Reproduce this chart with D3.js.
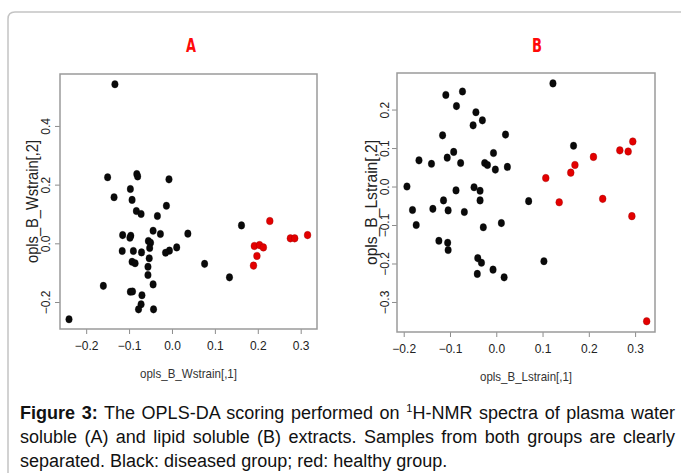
<!DOCTYPE html>
<html>
<head>
<meta charset="utf-8">
<script src="https://cdn.jsdelivr.net/npm/d3@7"></script>
<style>
  body { margin: 0; background: #fff; }
  svg { display: block; font-family: "Liberation Sans", Arial, sans-serif; }
  .tick line { stroke: #8c8c8c; }
  .tick text { fill: #222; font-size: 12px; }
</style>
</head>
<body>
<div id="fig"></div>
<script>
// panel A: water soluble extracts
var waterDiseased = [
  [-0.133, 0.542], [-0.150, 0.225], [-0.082, 0.236], [-0.080, 0.228], [-0.007, 0.218],
  [-0.097, 0.185], [-0.135, 0.157], [-0.093, 0.148], [-0.013, 0.128], [-0.083, 0.110],
  [-0.072, 0.100], [-0.034, 0.093], [0.162, 0.061], [-0.044, 0.043], [-0.115, 0.028],
  [-0.096, 0.026], [-0.098, 0.019], [-0.027, 0.032], [0.037, 0.033], [-0.055, 0.008],
  [-0.050, 0.002], [0.011, -0.014], [-0.052, -0.016], [-0.006, -0.025], [-0.015, -0.032],
  [-0.116, -0.026], [-0.090, -0.026], [-0.071, -0.031], [-0.053, -0.051], [-0.093, -0.063],
  [-0.086, -0.068], [0.076, -0.070], [-0.056, -0.080], [-0.056, -0.108], [0.134, -0.116],
  [-0.044, -0.140], [-0.160, -0.145], [-0.097, -0.165], [-0.092, -0.164], [-0.070, -0.177],
  [-0.072, -0.208], [-0.078, -0.225], [-0.043, -0.225], [-0.240, -0.259]
];
var waterHealthy = [
  [0.228, 0.076], [0.276, 0.017], [0.286, 0.017], [0.316, 0.028], [0.192, -0.009],
  [0.204, -0.006], [0.213, -0.014], [0.198, -0.043], [0.190, -0.076]
];

// panel B: lipid soluble extracts
var lipidDiseased = [
  [0.1225, 0.268], [-0.073, 0.247], [-0.109, 0.238], [-0.086, 0.209], [-0.044, 0.193],
  [-0.030, 0.172], [-0.050, 0.159], [-0.116, 0.133], [0.020, 0.135], [0.167, 0.106],
  [-0.092, 0.090], [-0.006, 0.087], [-0.106, 0.075], [-0.167, 0.068], [-0.140, 0.059],
  [-0.077, 0.061], [-0.025, 0.061], [-0.019, 0.056], [0.024, 0.051], [-0.002, 0.044],
  [-0.193, 0.000], [-0.048, -0.002], [-0.035, -0.011], [-0.087, -0.010], [-0.114, -0.036],
  [-0.035, -0.036], [0.070, -0.038], [-0.181, -0.061], [-0.137, -0.058], [-0.104, -0.062],
  [-0.069, -0.066], [-0.173, -0.100], [0.011, -0.095], [-0.028, -0.106], [-0.124, -0.141],
  [-0.105, -0.146], [-0.104, -0.165], [-0.040, -0.186], [-0.032, -0.198], [0.103, -0.194],
  [-0.007, -0.216], [-0.041, -0.227], [0.017, -0.236]
];
var lipidHealthy = [
  [0.107, 0.022], [0.136, -0.041], [0.161, 0.036], [0.170, 0.056], [0.210, 0.077],
  [0.230, -0.032], [0.267, 0.094], [0.285, 0.091], [0.295, 0.117], [0.293, -0.077],
  [0.325, -0.350]
];

var xTicksA = [-0.2, -0.1, 0.0, 0.1, 0.2, 0.3];
var yTicksA = [-0.2, 0.0, 0.2, 0.4];
var xTicksB = [-0.2, -0.1, 0.0, 0.1, 0.2, 0.3];
var yTicksB = [-0.3, -0.2, -0.1, 0.0, 0.1, 0.2];

var captionLines = [
  ["Figure 3:", " The OPLS-DA scoring performed on ", "1", "H-NMR spectra of plasma water"],
  ["", "soluble (A) and lipid soluble (B) extracts. Samples from both groups are clearly"],
  ["", "separated. Black: diseased group; red: healthy group."]
];

var svgWidth = 681;
var svgHeight = 473;

var svg = d3.select("#fig").append("svg")
  .attr("width", svgWidth)
  .attr("height", svgHeight);

// rounded frame around the figure
svg.append("path")
  .attr("d", "M8,480 L8,19 Q8,12 15,12 L690,12")
  .attr("fill", "none")
  .attr("stroke", "#c4c4c4")
  .attr("stroke-width", 1.5);

var panels = [
  {
    title: "A", titleX: 191,
    diseased: waterDiseased, healthy: waterHealthy,
    xDomain: [-0.261, 0.338], yDomain: [-0.292, 0.577],
    left: 60, right: 317, top: 74, bottom: 329,
    xTicks: xTicksA, yTicks: yTicksA,
    xLabel: "opls_B_Wstrain[,1]", yLabel: "opls_B_Wstrain[,2]",
    xLabelLen: 97, yLabelLen: 123, yLabelX: 38, yTickX: 50
  },
  {
    title: "B", titleX: 537,
    diseased: lipidDiseased, healthy: lipidHealthy,
    xDomain: [-0.2145, 0.343], yDomain: [-0.378, 0.295],
    left: 397, right: 655, top: 73, bottom: 332,
    xTicks: xTicksB, yTicks: yTicksB,
    xLabel: "opls_B_Lstrain[,1]", yLabel: "opls_B_Lstrain[,2]",
    xLabelLen: 92, yLabelLen: 125, yLabelX: 377, yTickX: 389
  }
];

function fmt(v) {
  return v === 0 ? "0.0" : d3.format(".1f")(v);
}

panels.forEach(function(p) {
  var x = d3.scaleLinear().domain(p.xDomain).range([p.left, p.right]);
  var y = d3.scaleLinear().domain(p.yDomain).range([p.bottom, p.top]);

  svg.append("text")
    .attr("x", p.titleX)
    .attr("y", 52)
    .attr("text-anchor", "middle")
    .attr("font-family", "'DejaVu Sans Condensed', 'DejaVu Sans', sans-serif")
    .attr("font-weight", "bold")
    .attr("font-size", 20)
    .attr("textLength", 10)
    .attr("lengthAdjust", "spacingAndGlyphs")
    .attr("fill", "#ff0a0a")
    .text(p.title);

  // x axis
  var xAxis = svg.append("g")
    .attr("transform", `translate(0, ${p.bottom})`)
    .call(d3.axisBottom(x).tickValues(p.xTicks).tickFormat(fmt).tickSize(5).tickSizeOuter(0));
  xAxis.select(".domain").remove();
  xAxis.selectAll("text").attr("dy", "0.71em").attr("y", 12);

  // y axis, labels parallel to axis like R
  var yAxis = svg.append("g")
    .attr("transform", `translate(${p.left}, 0)`)
    .call(d3.axisLeft(y).tickValues(p.yTicks).tickFormat(fmt).tickSize(5).tickSizeOuter(0));
  yAxis.select(".domain").remove();
  yAxis.selectAll(".tick text")
    .attr("x", null).attr("dy", null)
    .attr("text-anchor", "middle")
    .attr("transform", `translate(${p.yTickX - p.left}, 0) rotate(-90)`);

  // plot box
  svg.append("rect")
    .attr("x", p.left)
    .attr("y", p.top)
    .attr("width", p.right - p.left)
    .attr("height", p.bottom - p.top)
    .attr("fill", "none")
    .attr("stroke", "#9a9a9a")
    .attr("stroke-width", 1.5);

  // axis titles
  svg.append("text")
    .attr("x", (p.left + p.right) / 2)
    .attr("y", p.bottom + 49)
    .attr("text-anchor", "middle")
    .attr("font-size", 13)
    .attr("textLength", p.xLabelLen)
    .attr("lengthAdjust", "spacingAndGlyphs")
    .attr("fill", "#333")
    .text(p.xLabel);

  svg.append("text")
    .attr("transform", `translate(${p.yLabelX}, ${(p.top + p.bottom) / 2}) rotate(-90)`)
    .attr("text-anchor", "middle")
    .attr("font-size", 17)
    .attr("textLength", p.yLabelLen)
    .attr("lengthAdjust", "spacingAndGlyphs")
    .attr("fill", "#222")
    .text(p.yLabel);

  // points
  var g = svg.append("g");
  g.selectAll(".sick")
    .data(p.diseased)
    .enter()
    .append("ellipse")
    .attr("class", "sick")
    .attr("cx", d => x(d[0]))
    .attr("cy", d => y(d[1]))
    .attr("rx", 3.3)
    .attr("ry", 3.8)
    .attr("fill", "#0a0a0a")
    .attr("stroke", "rgba(0,0,0,0.25)")
    .attr("stroke-width", 1);

  g.selectAll(".well")
    .data(p.healthy)
    .enter()
    .append("ellipse")
    .attr("class", "well")
    .attr("cx", d => x(d[0]))
    .attr("cy", d => y(d[1]))
    .attr("rx", 3.4)
    .attr("ry", 3.8)
    .attr("fill", "#e30000")
    .attr("stroke", "rgba(150,0,0,0.35)")
    .attr("stroke-width", 1);
});

// caption, first two lines justified to the right edge
var baselines = [419, 443, 467];
var captionLeft = 20, captionRight = 675;
captionLines.forEach(function(line, i) {
  var t = svg.append("text")
    .attr("x", captionLeft)
    .attr("y", baselines[i])
    .attr("font-size", 18)
    .attr("fill", "#111");
  if (line[0]) t.append("tspan").attr("font-weight", "bold").text(line[0]);
  t.append("tspan").text(line[1]);
  if (line.length > 2) {
    t.append("tspan").attr("font-size", 11).attr("dy", -7).text(line[2]);
    t.append("tspan").attr("dy", 7).text(line[3]);
  }
  if (i < captionLines.length - 1) {
    var w = t.node().getComputedTextLength();
    var spaces = (line.join("").match(/ /g) || []).length;
    t.attr("word-spacing", (captionRight - captionLeft - w) / spaces);
  }
});
</script>
</body>
</html>
